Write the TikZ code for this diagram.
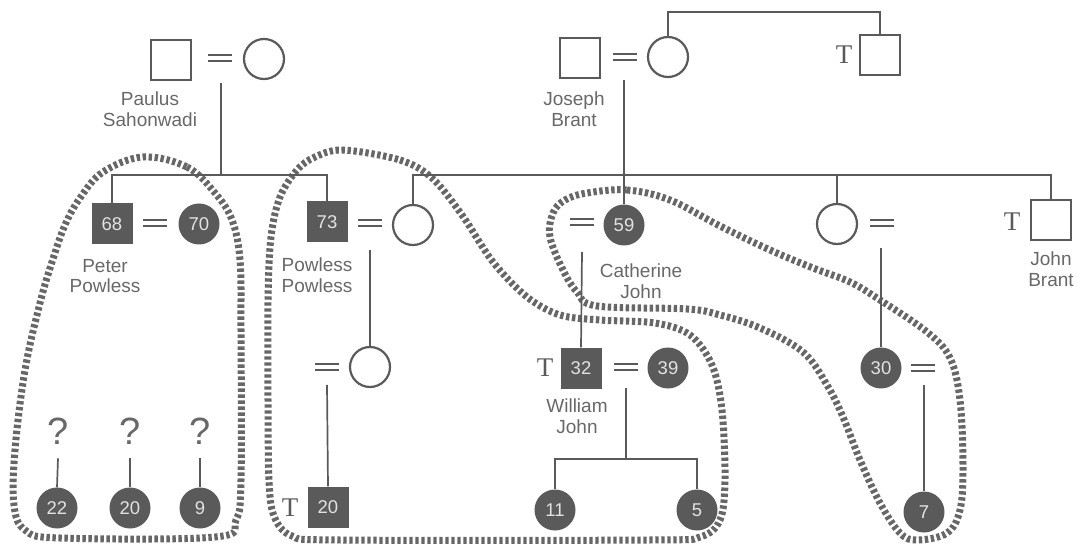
\documentclass[tikz,border=0pt]{standalone}
\usepackage{fontspec}
\setmainfont{Liberation Sans}
\newfontfamily\serifT{Liberation Serif}
\definecolor{lc}{HTML}{5A5A5A}
\definecolor{dk}{HTML}{5A5A5A}
\definecolor{tc}{HTML}{686868}
\definecolor{numc}{HTML}{E2E2E2}
\definecolor{dashc}{HTML}{676767}
\tikzset{
  male/.style={rectangle, draw=lc, line width=2.2pt, minimum size=40pt, inner sep=0pt},
  female/.style={circle, draw=lc, line width=2.2pt, minimum size=40pt, inner sep=0pt},
  mfill/.style={rectangle, fill=dk, minimum size=41pt, inner sep=0pt, text=numc, font=\fontsize{18.5}{18}\selectfont},
  ffill/.style={circle, fill=dk, minimum size=41pt, inner sep=0pt, text=numc, font=\fontsize{18.5}{18}\selectfont},
  eq/.style={rectangle, minimum width=24pt, minimum height=6pt, inner sep=0pt},
  eqline/.style={draw=lc, line width=1.8pt},
  conn/.style={draw=lc, line width=1.7pt},
  lab/.style={text=tc, align=center, inner sep=0pt, font=\fontsize{19}{20.5}\selectfont},
  tm/.style={text=lc, inner sep=0pt, font=\serifT\fontsize{27}{27}\selectfont},
  qm/.style={text=tc, inner sep=0pt, font=\fontsize{38}{38}\selectfont},
  loop/.style={draw=dashc, line width=7pt, line join=round, dash pattern=on 3.4pt off 2.6pt},
}
\begin{document}
\begin{tikzpicture}[x=1pt,y=-1pt]
\useasboundingbox (0,0) rectangle (1077,548);

% ---------- dashed groupings ----------
\draw[loop] plot[smooth cycle, tension=0.6] coordinates {
 (143,157) (187,167) (215,193) (232,220) (240,260) (241,330) (241,480) (236,520)
 (215,537) (60,538) (25,530) (14,505) (15,450) (25,370) (40,303) (52,262)
 (65,225) (80,198) (103,172)};
\draw[loop] plot[smooth cycle, tension=0.55] coordinates {
 (343,150) (400,160) (432,178) (462,215) (493,262) (527,297) (560,315) (600,320)
 (655,323) (690,335) (712,365) (722,410) (725,480) (720,520) (700,537) (650,540)
 (340,540) (292,536) (274,516) (269,480) (268,400) (268,300) (271,237) (280,197)
 (297,170) (315,157)};
\draw[loop] plot[smooth cycle, tension=0.6] coordinates {
 (587,193) (627,190) (670,200) (720,226) (770,250) (813,268) (850,282) (880,300)
 (927,332) (950,358) (960,400) (963,467) (960,510) (947,533) (917,540) (900,533)
 (880,503) (860,460) (843,417) (827,385) (803,352) (760,328) (720,315) (687,309)
 (597,306) (577,292) (563,270) (550,237) (553,213) (565,200)};

% ---------- generation 1 ----------
\node[male] (ps) at (171,60) {};
\node[eq] (pe) at (220,58) {};
\node[female] (pw) at (264,59) {};
\node[lab] (lps) at (150,109) {Paulus\\Sahonwadi};

\node[male] (jb) at (580,58) {};
\node[eq] (je) at (625,57) {};
\node[female] (jw) at (668,57) {};
\node[lab] (ljb) at (574,109) {Joseph\\Brant};

\node[male] (ts) at (880,55) {};
\node[tm] (tts) at (844,55) {T};

% ---------- generation 2 ----------
\node[mfill] (s68) at (112,224) {68};
\node[eq] (e68) at (155,223) {};
\node[ffill] (c70) at (199,224) {70};
\node[lab] (lpp) at (105,276) {Peter\\Powless};

\node[mfill] (s73) at (327,222) {73};
\node[eq] (e73) at (370,223) {};
\node[female] (w413) at (413,225) {};
\node[lab] (lpo) at (317,275) {Powless\\Powless};

\node[eq] (e59) at (582,222) {};
\node[ffill] (c59) at (624,225) {59};
\node[lab] (lcj) at (641,281) {Catherine\\John};

\node[female] (w837) at (837,224) {};
\node[eq] (e837) at (882,223) {};

\node[male] (jbr) at (1051,220) {};
\node[tm] (tjbr) at (1012,222) {T};
\node[lab] (ljbr) at (1051,269) {John\\Brant};

% ---------- generation 3 ----------
\node[eq] (e370) at (327,367) {};
\node[female] (w370) at (370,367) {};

\node[tm] (t32) at (545,368) {T};
\node[mfill] (s32) at (581,368) {32};
\node[eq] (e32) at (626,367) {};
\node[ffill] (c39) at (668,368) {39};
\node[lab] (lwj) at (577,416) {William\\John};

\node[ffill] (c30) at (881,368) {30};
\node[eq] (e30) at (923,368) {};

% ---------- generation 4 ----------
\node[qm] (q1) at (58,431) {?};
\node[qm] (q2) at (130,431) {?};
\node[qm] (q3) at (200,431) {?};
\node[ffill] (c22) at (57,508) {22};
\node[ffill] (c20) at (130,508) {20};
\node[ffill] (c9) at (200,508) {9};

\node[tm] (t20) at (290,508) {T};
\node[mfill] (s20) at (328,507) {20};

\node[ffill] (c11) at (555,510) {11};
\node[ffill] (c5) at (697,510) {5};

\node[ffill] (c7) at (924,512) {7};

% ---------- marriage signs ----------
\foreach \e in {pe,je,e68,e73,e59,e837,e370,e32,e30}
  \draw[eqline] (\e.north west) -- (\e.north east) (\e.south west) -- (\e.south east);

% ---------- connectors ----------
\coordinate (pd) at (221,83);
\coordinate (pj) at (221,175);
\draw[conn] (pd) -- (pj);
\draw[conn] (s68.north) -- (s68.north |- pj) -- (s73.north |- pj) -- (s73.north);

\draw[conn] (jw.north) -- ++(0,-24) -| (ts.north);

\coordinate (jd) at (624,80);
\coordinate (jj) at (624,175);
\draw[conn] (jd) -- (c59.north);
\draw[conn] (w413.north) -- (w413.north |- jj) -- (jbr.north |- jj) -- (jbr.north);
\draw[conn] (w837.north) -- (w837.north |- jj);

\coordinate (d73) at (370,250);
\draw[conn] (d73) -- (w370.north);
\coordinate (d59) at (582,252);
\draw[conn] (d59) -- (s32.north);
\coordinate (d837) at (881,248);
\draw[conn] (d837) -- (c30.north);

\coordinate (d370) at (327,385);
\draw[conn] (d370) -- (s20.north);
\coordinate (d32) at (626,388);
\coordinate (j32) at (626,459);
\draw[conn] (d32) -- (j32);
\draw[conn] (c11.north) -- (c11.north |- j32) -- (c5.north |- j32) -- (c5.north);
\coordinate (d30) at (924,385);
\draw[conn] (d30) -- (c7.north);

\draw[conn] ([yshift=-14pt]q1.south) -- (c22.north);
\draw[conn] ([yshift=-14pt]q2.south) -- (c20.north);
\draw[conn] ([yshift=-14pt]q3.south) -- (c9.north);
\end{tikzpicture}
\end{document}
